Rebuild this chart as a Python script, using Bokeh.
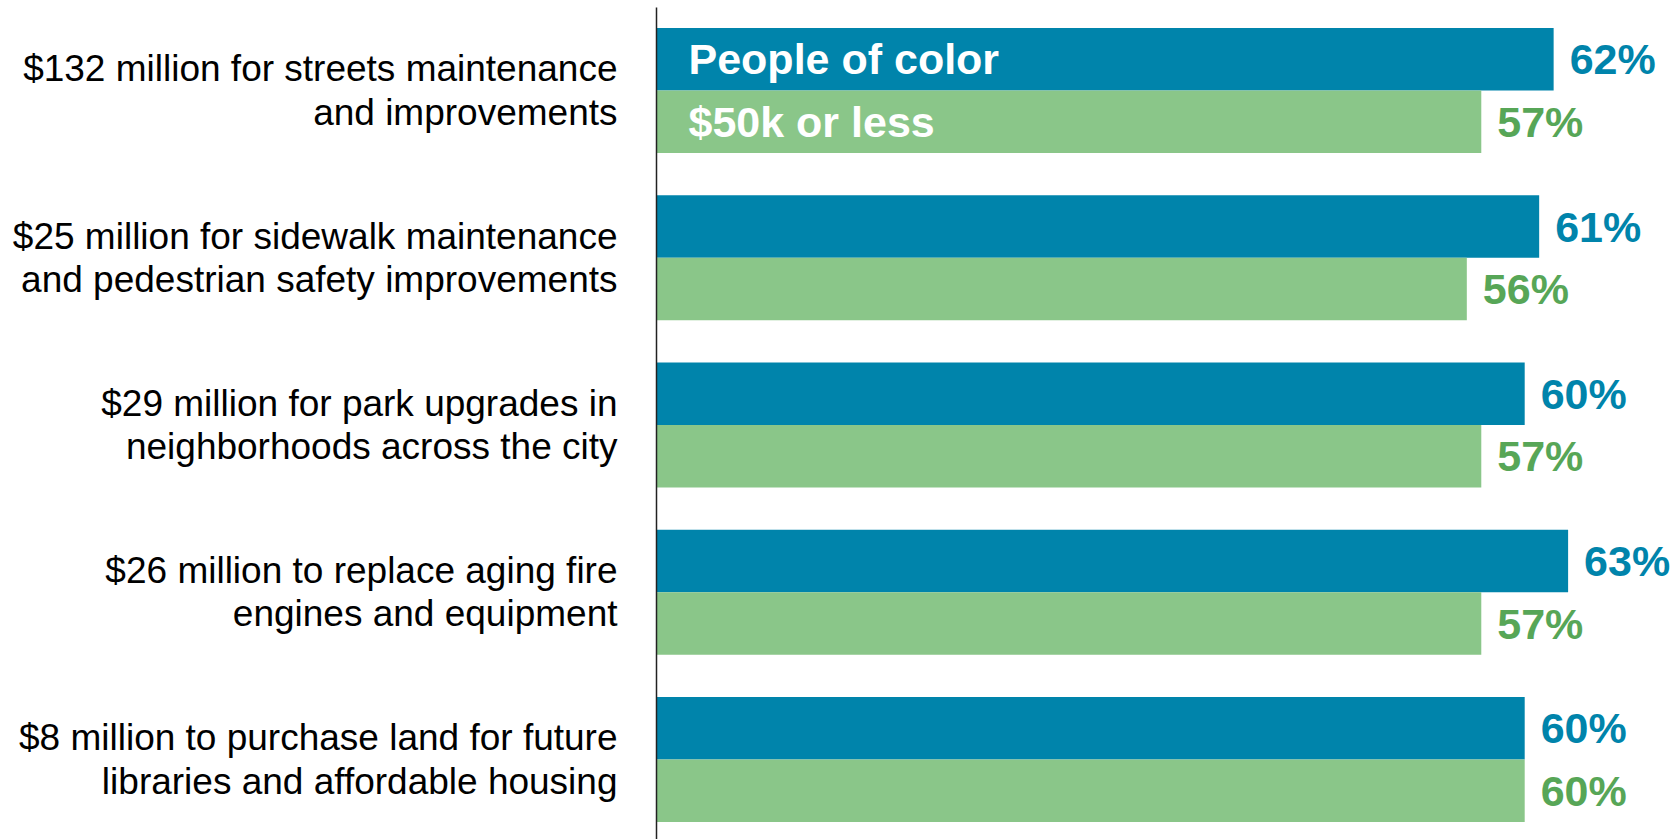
from bokeh.plotting import figure
from bokeh.models import ColumnDataSource, Range1d
from bokeh.core.properties import value
from bokeh.embed import file_html
from bokeh.resources import INLINE

categories = [
    "$132 million for streets maintenance\nand improvements",
    "$25 million for sidewalk maintenance\nand pedestrian safety improvements",
    "$29 million for park upgrades in\nneighborhoods across the city",
    "$26 million to replace aging fire\nengines and equipment",
    "$8 million to purchase land for future\nlibraries and affordable housing",
]
people_of_color = [62, 61, 60, 63, 60]
income_50k_or_less = [57, 56, 57, 57, 60]
series_names = ["People of color", "$50k or less"]

BLUE = "#0084AB"
GREEN_BAR = "#8AC689"
GREEN_TXT = "#57A657"

W, H = 1672, 839
PX_PER_PCT = 14.47
ZERO_PX = 656
GROUP_PX = 167.25
FIRST_CENTER_PX = 90
BAR_H = 62.5 / GROUP_PX

y_top = -FIRST_CENTER_PX / GROUP_PX
y_bottom = (H - FIRST_CENTER_PX) / GROUP_PX

p = figure(width=W, height=H, output_backend="svg", toolbar_location=None,
           x_axis_location=None, y_axis_location=None,
           x_range=Range1d(-ZERO_PX / PX_PER_PCT, (W - ZERO_PX) / PX_PER_PCT),
           y_range=Range1d(y_bottom, y_top),
           min_border=0)
p.outline_line_color = None
p.xgrid.visible = False
p.ygrid.visible = False

idx = list(range(len(categories)))
blue_src = ColumnDataSource(dict(
    y=[i - BAR_H / 2 for i in idx], v=people_of_color,
    lab=[f"{v}%" for v in people_of_color]))
green_src = ColumnDataSource(dict(
    y=[i + BAR_H / 2 for i in idx], v=income_50k_or_less,
    lab=[f"{v}%" for v in income_50k_or_less]))

p.hbar(y="y", left=0, right="v", height=BAR_H, source=blue_src,
       fill_color=BLUE, line_color=None)
p.hbar(y="y", left=0, right="v", height=BAR_H, source=green_src,
       fill_color=GREEN_BAR, line_color=None)

p.text(x="v", y="y", text="lab", source=blue_src, x_offset=16,
       text_align="left", text_baseline="middle", text_color=BLUE,
       text_font=value("Liberation Sans"), text_font_style="bold",
       text_font_size="43px")
p.text(x="v", y="y", text="lab", source=green_src, x_offset=16,
       text_align="left", text_baseline="middle", text_color=GREEN_TXT,
       text_font=value("Liberation Sans"), text_font_style="bold",
       text_font_size="43px")

# series names inside first group's bars
p.text(x=[0, 0], y=[blue_src.data["y"][0], green_src.data["y"][0]],
       text=series_names, x_offset=32, text_align="left",
       text_baseline="middle", text_color="white",
       text_font=value("Liberation Sans"), text_font_style="bold",
       text_font_size="43px")

# category labels
p.text(x=[0] * len(idx), y=idx, text=categories, x_offset=-39,
       text_align="right", text_baseline="middle", text_color="black",
       text_font=value("Liberation Sans"), text_font_size="37px",
       text_line_height=1.05)

# vertical category axis line
p.segment(x0=[0], x1=[0], y0=[y_top + 7 / GROUP_PX], y1=[y_bottom],
          line_color="#222222", line_width=1.5)

open("out.html", "w").write(file_html(p, INLINE))
